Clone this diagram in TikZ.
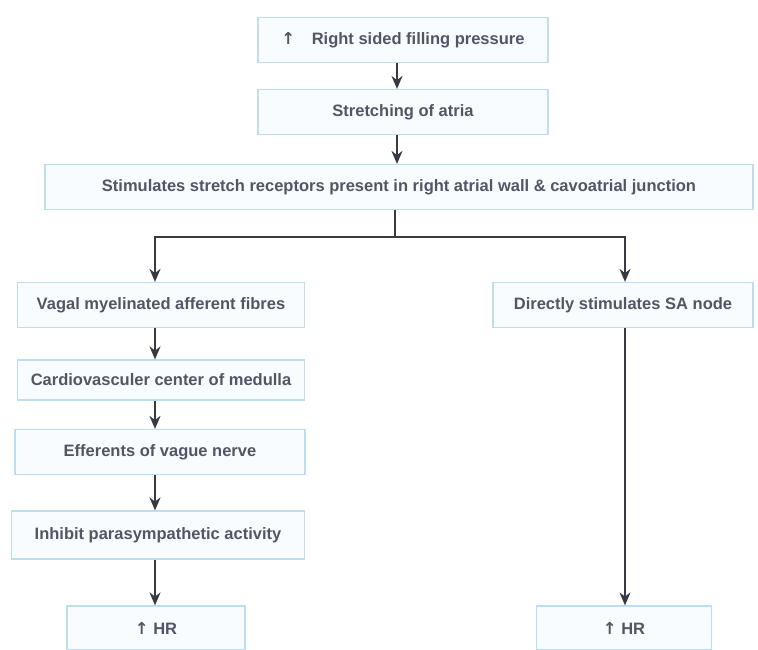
\documentclass[tikz,border=0pt]{standalone}
\usepackage{fontspec}
\setmainfont{Liberation Sans}
\newfontfamily\arrowfont{DejaVu Sans}
\usetikzlibrary{arrows.meta}
\definecolor{boxline}{RGB}{188,222,238}
\definecolor{boxfill}{RGB}{248,252,254}
\definecolor{txtgray}{RGB}{80,86,100}
\definecolor{arrgray}{RGB}{55,58,66}
\newcommand{\upar}{{\arrowfont\bfseries ↑}}
\tikzset{
  flowbox/.style={draw=boxline,fill=boxfill,line width=1.2pt,text=txtgray,font=\bfseries\fontsize{16.5}{18}\selectfont,inner sep=0pt,minimum height=45pt},
  flowarr/.style={draw=arrgray,line width=1.8pt,-{Stealth[length=13pt,width=11pt]}},
  flowline/.style={draw=arrgray,line width=1.8pt}
}
\begin{document}
\begin{tikzpicture}[x=1pt,y=-1pt]
\useasboundingbox (0,0) rectangle (758,650);
% top chain
\node[flowbox,minimum width=290pt] (fill) at (403,40) {\upar\quad Right sided filling pressure};
\node[flowbox,minimum width=290pt] (stretch) at (403,112) {Stretching of atria};
\node[flowbox,minimum width=708pt] (recep) at (399,187) {Stimulates stretch receptors present in right atrial wall \& cavoatrial junction};
\coordinate (mid) at (397,0);
\draw[flowarr] (fill.south -| mid) -- (stretch.north -| mid);
\draw[flowarr] (stretch.south -| mid) -- (recep.north -| mid);
% branch
\coordinate (split) at (395,237);
\draw[flowline] (recep.south -| split) -- (split);
% left column
\coordinate (lcol) at (155,0);
\node[flowbox,minimum width=287pt] (vagal) at (161,305) {Vagal myelinated afferent fibres};
\node[flowbox,minimum width=287pt,minimum height=40pt] (medulla) at (161,380) {Cardiovasculer center of medulla};
\node[flowbox,minimum width=290pt] (effer) at (160,452) {Efferents of vague nerve};
\node[flowbox,minimum width=293pt,minimum height=48pt] (inhib) at (158,535) {Inhibit parasympathetic activity};
\node[flowbox,minimum width=178pt,minimum height=44pt] (hrleft) at (156,628) {\upar\ HR};
% right column
\coordinate (rcol) at (625,0);
\node[flowbox,minimum width=260pt] (sanode) at (623,305) {Directly stimulates SA node};
\node[flowbox,minimum width=175pt,minimum height=44pt] (hrright) at (624,628) {\upar\ HR};
\draw[flowarr] (split) -| (vagal.north -| lcol);
\draw[flowarr] (split) -| (sanode.north -| rcol);
\draw[flowarr] (vagal.south -| lcol) -- (medulla.north -| lcol);
\draw[flowarr] (medulla.south -| lcol) -- (effer.north -| lcol);
\draw[flowarr] (effer.south -| lcol) -- (inhib.north -| lcol);
\draw[flowarr] (inhib.south -| lcol) -- (hrleft.north -| lcol);
\draw[flowarr] (sanode.south -| rcol) -- (hrright.north -| rcol);
\end{tikzpicture}
\end{document}
